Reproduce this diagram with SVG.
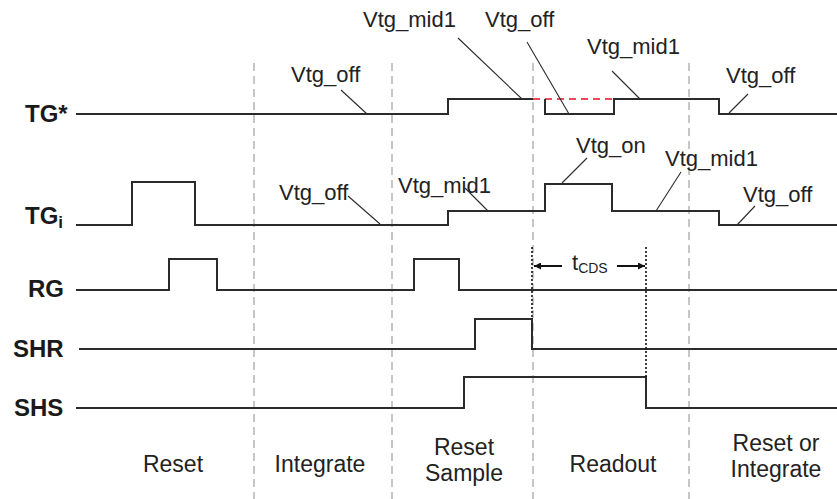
<svg xmlns="http://www.w3.org/2000/svg" width="837" height="499" viewBox="0 0 837 499">
<style>
.bg{fill:#ffffff}
.grid{stroke:#b4b4b4;stroke-width:1.5;stroke-dasharray:8,5;fill:none}
.sig{stroke:#2b2b2b;stroke-width:2;fill:none}
.red{stroke:#ec4a5a;stroke-width:2;stroke-dasharray:7,5;fill:none}
.dot{stroke:#111;stroke-width:1.6;stroke-dasharray:2,2;fill:none}
.lead{stroke:#2b2b2b;stroke-width:1.1;fill:none}
.arr{stroke:#111;stroke-width:2;fill:none}
.name{font-family:"Liberation Sans",Arial,sans-serif;font-weight:bold;font-size:24px;fill:#1a1a1a}
.sub{font-family:"Liberation Sans",Arial,sans-serif;font-weight:bold;font-size:17px;fill:#1a1a1a}
.v{font-family:"Liberation Sans",Arial,sans-serif;font-size:22px;fill:#222}
.ph{font-family:"Liberation Sans",Arial,sans-serif;font-size:23px;fill:#222;text-anchor:middle}
</style>
<defs>
<marker id="ah" viewBox="0 0 10 10" refX="10" refY="5" markerWidth="9" markerHeight="7" markerUnits="userSpaceOnUse" orient="auto">
<path d="M0,0 L10,5 L0,10 z" fill="#111"/>
</marker>
</defs>
<rect class="bg" x="0" y="0" width="837" height="499"/>

<g id="phase-dividers">
<line class="grid" x1="254" y1="63" x2="254" y2="499"/>
<line class="grid" x1="392" y1="63" x2="392" y2="499"/>
<line class="grid" x1="533" y1="63" x2="533" y2="499"/>
<line class="grid" x1="689" y1="63" x2="689" y2="499"/>
</g>

<g id="TG-star">
<text class="name" x="25" y="122">TG*</text>
<path class="sig" d="M76,114 H448 V99 H533"/>
<path class="red" d="M533,99 H614"/>
<path class="sig" d="M545,99 V114 H614 V99 H719 V114 H837"/>
</g>

<g id="TG-i">
<text class="name" x="25" y="224">TG<tspan class="sub" dy="4">i</tspan></text>
<path class="sig" d="M76,225 H132 V182 H195 V225 H448 V211 H545 V184 H612 V211 H719 V225 H837"/>
</g>

<g id="RG">
<text class="name" x="28" y="297">RG</text>
<path class="sig" d="M76,290 H169 V259 H217 V290 H414 V259 H459 V290 H837"/>
</g>

<g id="SHR">
<text class="name" x="13" y="357">SHR</text>
<path class="sig" d="M79,349 H475 V319 H532 V349 H837"/>
</g>

<g id="SHS">
<text class="name" x="14" y="416">SHS</text>
<path class="sig" d="M76,408 H464 V377 H646 V408 H837"/>
</g>

<g id="labels">
<text class="v" x="291" y="82">Vtg_off</text>
<text class="v" x="363" y="27">Vtg_mid1</text>
<text class="v" x="485" y="27">Vtg_off</text>
<text class="v" x="587" y="54">Vtg_mid1</text>
<text class="v" x="726" y="83">Vtg_off</text>
<text class="v" x="279" y="200">Vtg_off</text>
<text class="v" x="398" y="193">Vtg_mid1</text>
<text class="v" x="576" y="153">Vtg_on</text>
<text class="v" x="665" y="166">Vtg_mid1</text>
<text class="v" x="743" y="202">Vtg_off</text>
</g>

<g id="connectors">
<line class="lead" x1="341" y1="90" x2="367" y2="114"/>
<line class="lead" x1="458" y1="38" x2="522" y2="99"/>
<line class="lead" x1="527" y1="42" x2="569" y2="114"/>
<line class="lead" x1="612" y1="71" x2="640" y2="99"/>
<line class="lead" x1="748" y1="94" x2="729" y2="113"/>
<line class="lead" x1="348" y1="196" x2="380" y2="224"/>
<line class="lead" x1="465" y1="188" x2="488" y2="211"/>
<line class="lead" x1="587" y1="158" x2="562" y2="183"/>
<line class="lead" x1="681" y1="172" x2="656" y2="211"/>
<line class="lead" x1="755" y1="206" x2="737" y2="225"/>
<line class="dot" x1="532" y1="247" x2="532" y2="319"/>
<line class="dot" x1="646" y1="247" x2="646" y2="377"/>
<line class="arr" x1="562" y1="266" x2="534" y2="266" marker-end="url(#ah)"/>
<line class="arr" x1="617" y1="266" x2="645" y2="266" marker-end="url(#ah)"/>
</g>

<g id="tcds">
<text class="v" x="572" y="270">t<tspan font-size="14" dy="3">CDS</tspan></text>
</g>

<g id="phases">
<text class="ph" x="173" y="472">Reset</text>
<text class="ph" x="320" y="472">Integrate</text>
<text class="ph" x="464" y="455">Reset</text>
<text class="ph" x="464" y="481">Sample</text>
<text class="ph" x="613" y="472">Readout</text>
<text class="ph" x="776" y="451">Reset or</text>
<text class="ph" x="776" y="477">Integrate</text>
</g>
</svg>
